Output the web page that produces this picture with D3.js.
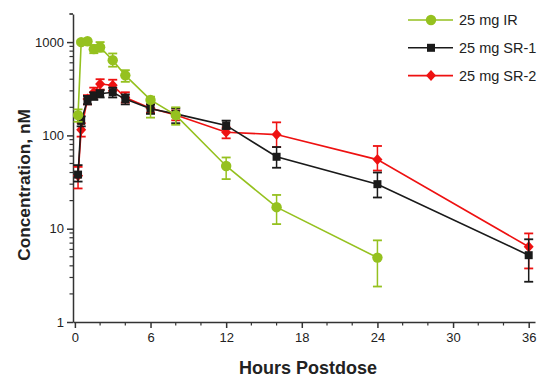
<!DOCTYPE html>
<html>
<head>
<meta charset="utf-8">
<script src="https://cdn.jsdelivr.net/npm/d3@7"></script>
<style>
  body { margin: 0; background: #fff; }
  text { font-family: Arial, "Liberation Sans", sans-serif; }
</style>
</head>
<body>
<div id="chart"></div>
<script>
// hours after dose
const timesIR = [0.25, 0.5, 1, 1.5, 2, 3, 4, 6, 8, 12, 16, 24];
const timesSR = [0.25, 0.5, 1, 1.5, 2, 3, 4, 6, 8, 12, 16, 24, 36];

// concentration, nM (mean, error low, error high)
const irMean = [165, 1000, 1020, 840, 880, 640, 440, 240, 165, 47, 17, 4.9];
const irLow  = [140, 960, 990, 760, 790, 545, 375, 155, 130, 34, 11.2, 2.4];
const irHigh = [190, 1040, 1050, 930, 1000, 755, 500, 260, 200, 58, 23, 7.5];

const sr1Mean = [38, 143, 240, 265, 280, 290, 245, 193, 170, 128, 59, 30, 5.2];
const sr1Low  = [32, 125, 215, 240, 255, 255, 215, 170, 135, 117, 45, 21.6, 2.7];
const sr1High = [48, 160, 265, 290, 305, 325, 275, 215, 195, 144, 75, 40, 7.7];

const sr2Mean = [37, 115, 245, 290, 355, 345, 255, 195, 165, 108, 102, 55, 6.4];
const sr2Low  = [27, 97, 215, 255, 310, 300, 225, 175, 145, 93, 75, 42, 3.75];
const sr2High = [46, 135, 270, 325, 400, 395, 290, 215, 185, 122, 138, 77, 8.9];

const seriesNames = ["25 mg IR", "25 mg SR-1", "25 mg SR-2"];
const xTicks = [0, 6, 12, 18, 24, 30, 36];
const yTicks = [1, 10, 100, 1000];

const width = 542, height = 378;

const svg = d3.select("#chart").append("svg")
    .attr("width", width)
    .attr("height", height);

const x = d3.scaleLinear().domain([-0.15, 36.5]).range([73, 535]);
const y = d3.scaleLog().domain([1, 2000]).range([322, 14]);

const axisColor = "#333";

// y axis
const minorY = [];
[1, 10, 100, 1000].forEach(d => {
    for (let k = 2; k <= 9; k++) if (d * k <= 2000) minorY.push(d * k);
});
minorY.push(2000);

const yAxis = svg.append("g")
    .attr("transform", `translate(${x(-0.15)},0)`)
    .call(d3.axisLeft(y).tickValues(yTicks).tickFormat(d3.format("d")).tickSize(6).tickSizeOuter(0));
yAxis.select(".domain").attr("stroke", axisColor).attr("stroke-width", 1.5);
yAxis.selectAll(".tick line").attr("stroke", axisColor).attr("stroke-width", 1.5);
yAxis.selectAll(".tick text").attr("font-size", 13).attr("fill", "#222").attr("x", -9);

svg.append("g").selectAll("line")
    .data(minorY)
    .enter().append("line")
    .attr("x1", x(-0.15) - 3.5)
    .attr("x2", x(-0.15))
    .attr("y1", d => y(d))
    .attr("y2", d => y(d))
    .attr("stroke", axisColor)
    .attr("stroke-width", 1.2);

// x axis
const xAxis = svg.append("g")
    .attr("transform", `translate(0,${y(1)})`)
    .call(d3.axisBottom(x).tickValues(xTicks).tickSize(6).tickSizeOuter(0));
xAxis.select(".domain").attr("stroke", axisColor).attr("stroke-width", 1.5);
xAxis.selectAll(".tick line").attr("stroke", axisColor).attr("stroke-width", 1.5);
xAxis.selectAll(".tick text").attr("font-size", 13).attr("fill", "#222").attr("y", 11);

const minorX = d3.range(2, 36, 2).filter(d => d % 6 !== 0);
svg.append("g").selectAll("line")
    .data(minorX)
    .enter().append("line")
    .attr("x1", d => x(d))
    .attr("x2", d => x(d))
    .attr("y1", y(1))
    .attr("y2", y(1) + 3.5)
    .attr("stroke", axisColor)
    .attr("stroke-width", 1.2);

// axis titles
svg.append("text")
    .attr("x", 308)
    .attr("y", 374)
    .attr("text-anchor", "middle")
    .attr("font-size", 18)
    .attr("font-weight", "bold")
    .attr("fill", "#222")
    .text("Hours Postdose");

svg.append("text")
    .attr("transform", `translate(30,185) rotate(-90)`)
    .attr("text-anchor", "middle")
    .attr("font-size", 17.3)
    .attr("font-weight", "bold")
    .attr("fill", "#222")
    .text("Concentration, nM");

// series
function build(times, mean, lo, hi) {
    return times.map((t, i) => ({ t, v: mean[i], lo: lo[i], hi: hi[i] }));
}

const series = [
    { name: seriesNames[2], color: "#ee1111", shape: "diamond", data: build(timesSR, sr2Mean, sr2Low, sr2High) },
    { name: seriesNames[1], color: "#1a1a1a", shape: "square", data: build(timesSR, sr1Mean, sr1Low, sr1High) },
    { name: seriesNames[0], color: "#95c11f", shape: "circle", data: build(timesIR, irMean, irLow, irHigh) }
];

const line = d3.line().x(d => x(d.t)).y(d => y(d.v));

function marker(sel, shape, color) {
    if (shape === "circle") {
        sel.append("circle").attr("r", 5.2).attr("fill", color);
    } else if (shape === "square") {
        sel.append("rect").attr("x", -4).attr("y", -4).attr("width", 8).attr("height", 8).attr("fill", color);
    } else {
        sel.append("path").attr("d", "M0,-5.5L5,0L0,5.5L-5,0Z").attr("fill", color);
    }
}

series.forEach(s => {
    const g = svg.append("g");

    // error bars
    const eb = g.selectAll(".err")
        .data(s.data)
        .enter().append("g");
    eb.append("line")
        .attr("x1", d => x(d.t)).attr("x2", d => x(d.t))
        .attr("y1", d => y(d.lo)).attr("y2", d => y(d.hi))
        .attr("stroke", s.color).attr("stroke-width", 1.5);
    ["lo", "hi"].forEach(k => {
        eb.append("line")
            .attr("x1", d => x(d.t) - 4.5).attr("x2", d => x(d.t) + 4.5)
            .attr("y1", d => y(d[k])).attr("y2", d => y(d[k]))
            .attr("stroke", s.color).attr("stroke-width", 1.8);
    });

    g.append("path")
        .datum(s.data)
        .attr("d", line)
        .attr("fill", "none")
        .attr("stroke", s.color)
        .attr("stroke-width", 1.6);

    g.selectAll(".pt")
        .data(s.data)
        .enter().append("g")
        .attr("transform", d => `translate(${x(d.t)},${y(d.v)})`)
        .each(function () { marker(d3.select(this), s.shape, s.color); });
});

// legend
const legend = svg.append("g");
[series[2], series[1], series[0]].forEach((s, i) => {
    const ly = 20 + i * 27.8;
    const row = legend.append("g").attr("transform", `translate(0,${ly})`);
    row.append("line")
        .attr("x1", 408).attr("x2", 453)
        .attr("y1", 0).attr("y2", 0)
        .attr("stroke", s.color).attr("stroke-width", 1.6);
    const m = row.append("g").attr("transform", "translate(431,0)");
    marker(m, s.shape, s.color);
    row.append("text")
        .attr("x", 459)
        .attr("y", 5)
        .attr("font-size", 14.5)
        .attr("fill", "#222")
        .text(s.name);
});
</script>
</body>
</html>
